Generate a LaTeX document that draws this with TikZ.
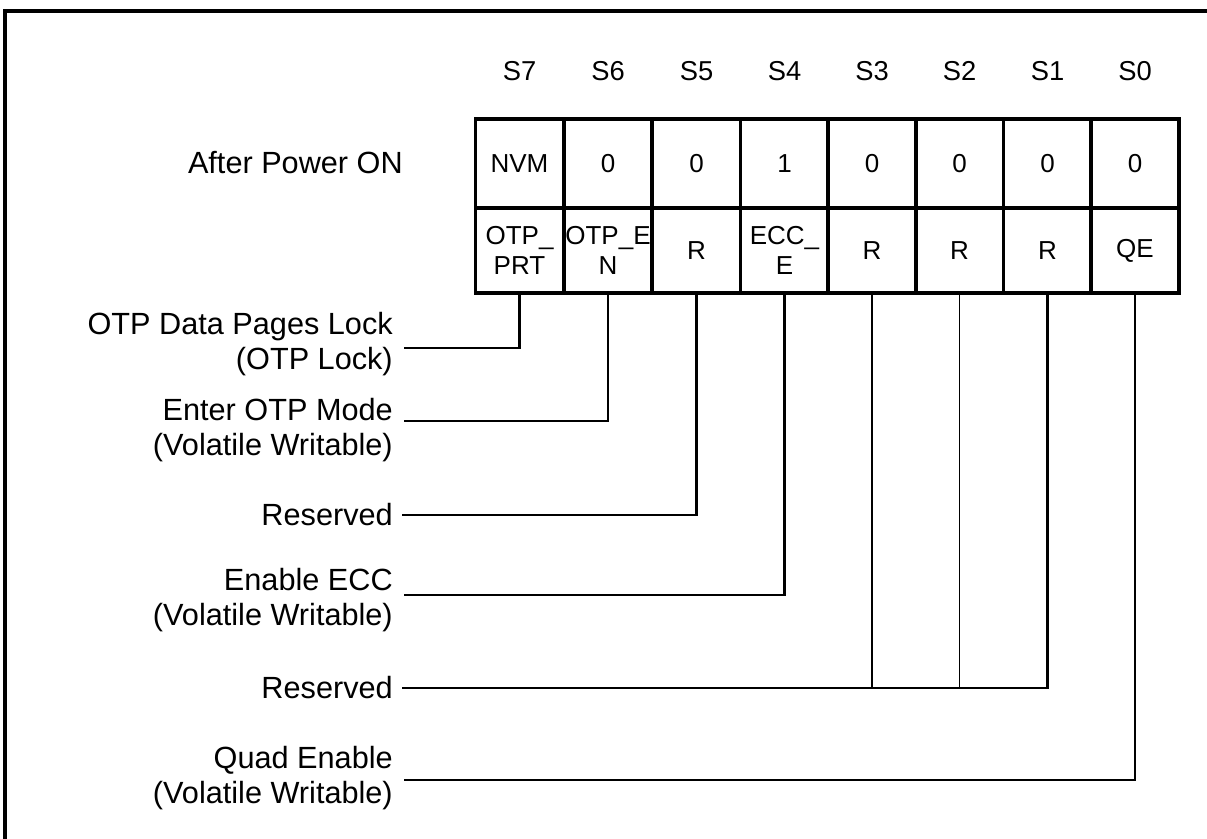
\documentclass[tikz,border=0pt]{standalone}
\usepackage{fontspec}
\setmainfont{Liberation Sans}
\begin{document}
\begin{tikzpicture}[x=0.75pt,y=-0.75pt,
  cell/.style={draw, line width=2.9pt, rectangle, inner sep=0pt, minimum width=66pt, align=center, font=\fontsize{19.5}{22.5}\selectfont},
  toprow/.style={cell, minimum height=66.75pt},
  botrow/.style={cell, minimum height=63.75pt},
  lbl/.style={anchor=east, align=right, inner sep=0pt, font=\fontsize{23}{26.5}\selectfont},
  hdr/.style={inner sep=0pt, font=\fontsize{20.5}{22}\selectfont},
  wire/.style={line width=1.7pt},
  thinwire/.style={line width=1pt}]
\path[use as bounding box] (0,0) rectangle (1207,839);
\clip (0,0) rectangle (1207,839);
% frame (cropped)
\draw[line width=2.4pt] (5,900) -- (5,11) -- (1300,11);
% headers
\foreach \n/\x in {7/519.5,6/608,5/696.5,4/784.5,3/872,2/959.5,1/1047.5,0/1135}
  \node[hdr] (h\n) at (\x,71) {S\n};
% top row
\node[toprow] (t7) at (519.5,163.5) {NVM};
\node[toprow] (t6) at (608,163.5) {0};
\node[toprow] (t5) at (696.5,163.5) {0};
\node[toprow] (t4) at (784.5,163.5) {1};
\node[toprow] (t3) at (872,163.5) {0};
\node[toprow] (t2) at (959.5,163.5) {0};
\node[toprow] (t1) at (1047.5,163.5) {0};
\node[toprow] (t0) at (1135,163.5) {0};
% bottom row
\node[botrow] (b7) at (519.5,250.5) {OTP\_\\PRT};
\node[botrow] (b6) at (608,250.5) {OTP\_E\\N};
\node[botrow] (b5) at (696.5,250.5) {R};
\node[botrow] (b4) at (784.5,250.5) {ECC\_\\E};
\node[botrow] (b3) at (872,250.5) {R};
\node[botrow] (b2) at (959.5,250.5) {R};
\node[botrow] (b1) at (1047.5,250.5) {R};
\node[botrow] (b0) at (1135,250.5) {QE};
% labels
\node[lbl] (apo) at (403,163) {After Power ON};
\node[lbl] (l7) at (393,344) {OTP Data Pages Lock\\(OTP Lock)};
\node[lbl] (l6) at (393,430) {Enter OTP Mode\\(Volatile Writable)};
\node[lbl] (l5) at (393,515) {Reserved};
\node[lbl] (l4) at (393,600) {Enable ECC\\(Volatile Writable)};
\node[lbl] (l3) at (393,688) {Reserved};
\node[lbl] (l0) at (393,778) {Quad Enable\\(Volatile Writable)};
% line ends
\coordinate (e7) at (404,348);
\coordinate (e6) at (404,421);
\coordinate (e5) at (402,515);
\coordinate (e4) at (404,595);
\coordinate (e3) at (402,688);
\coordinate (e0) at (404,780);
% connectors
\draw[wire] (b7.south) |- (e7);
\draw[wire] (b6.south) |- (e6);
\draw[wire] (b5.south) |- (e5);
\draw[wire] (b4.south) |- (e4);
\draw[thinwire] (b3.south) -- (b3.south |- e3);
\draw[thinwire] (b2.south) -- (b2.south |- e3);
\draw[wire] (b1.south) |- (e3);
\draw[wire] (b0.south) |- (e0);
\end{tikzpicture}
\end{document}
